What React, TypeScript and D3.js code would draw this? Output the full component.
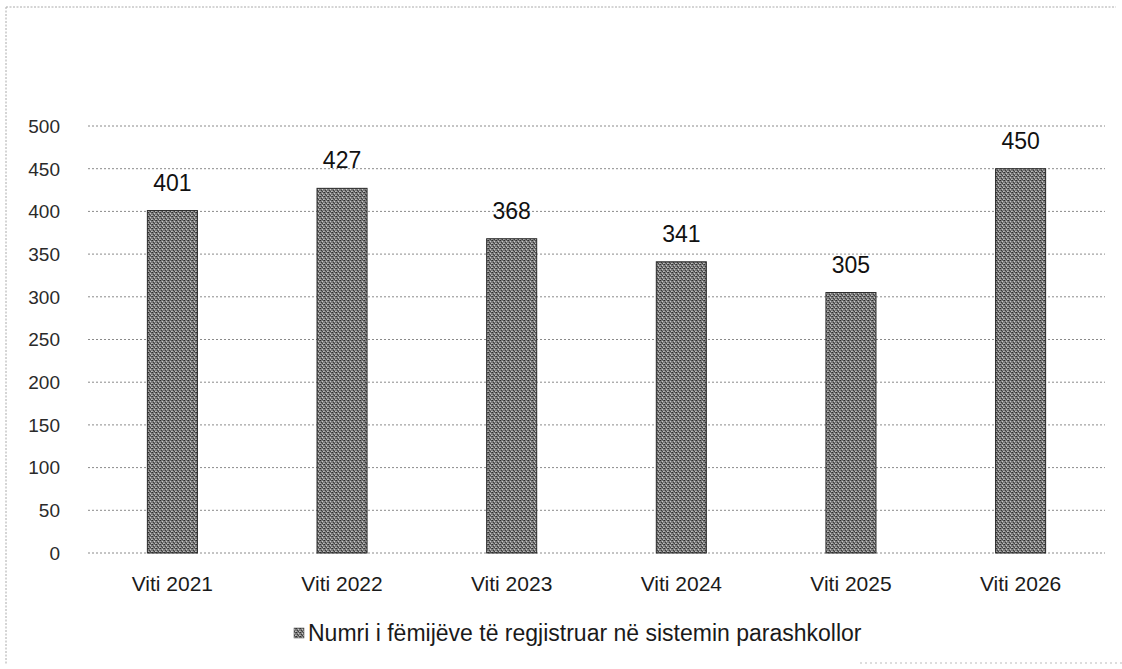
import React from "react";
import * as d3 from "d3";

const categories = ["Viti 2021", "Viti 2022", "Viti 2023", "Viti 2024", "Viti 2025", "Viti 2026"];
const values = [401, 427, 368, 341, 305, 450];
const yTicks = [0, 50, 100, 150, 200, 250, 300, 350, 400, 450, 500];
const seriesName = "Numri i fëmijëve të regjistruar në sistemin parashkollor";

export default function App() {
  const W = 1122, H = 669;
  const left = 88, right = 1105, top = 126, bottom = 553;
  const x = d3.scaleBand<string>().domain(categories).range([left, right]).paddingInner(0.705).paddingOuter(0.35);
  const y = d3.scaleLinear().domain([0, 500]).range([bottom, top]);
  const font = "'Liberation Sans', Arial, sans-serif";
  return (
    <svg width={W} height={H} style={{ position: "absolute", left: 0, top: 0, background: "#fff" }}>
      <defs>
        <pattern id="dither" width="4" height="4" patternUnits="userSpaceOnUse">
          <rect width="4" height="4" fill="#7b7b7b" />
          <rect x="0" y="0" width="1" height="1" fill="#2f2f2f" />
          <rect x="2" y="1" width="1" height="1" fill="#c8c8c8" />
          <rect x="1" y="2" width="1" height="1" fill="#3a3a3a" />
          <rect x="3" y="3" width="1" height="1" fill="#bdbdbd" />
          <rect x="3" y="0" width="1" height="1" fill="#4f4f4f" />
          <rect x="0" y="3" width="1" height="1" fill="#a8a8a8" />
          <rect x="2" y="3" width="1" height="1" fill="#444" />
        </pattern>
      </defs>
      <rect x={0} y={0} width={W} height={H} fill="#fff" />
      {/* frame */}
      <line x1={6} y1={7} x2={1116} y2={7} stroke="#aaa" strokeWidth={1} strokeDasharray="2,1.5" />
      <line x1={6} y1={7} x2={6} y2={664} stroke="#aaa" strokeWidth={1} strokeDasharray="2,1.5" />
      <line x1={860} y1={663} x2={1122} y2={663} stroke="#bbb" strokeWidth={1} strokeDasharray="2,3" />
      {/* grid */}
      {yTicks.map((t) => (
        <g key={t}>
          <line x1={left} x2={right} y1={y(t)} y2={y(t)} stroke="#8a8a8a" strokeWidth={1} strokeDasharray="2,2" />
          <text x={60} y={y(t)} dy="0.36em" textAnchor="end" fontFamily={font} fontSize={19} fill="#2a2a2a">{t}</text>
        </g>
      ))}
      {/* bars */}
      {categories.map((c, i) => (
        <g key={c}>
          <rect x={x(c)} y={y(values[i])} width={x.bandwidth()} height={bottom - y(values[i])} fill="url(#dither)" stroke="#2a2a2a" strokeWidth={1} />
          <text x={(x(c) as number) + x.bandwidth() / 2} y={y(values[i]) - 20} textAnchor="middle" fontFamily={font} fontSize={23} fill="#111">{values[i]}</text>
          <text x={(x(c) as number) + x.bandwidth() / 2} y={591} textAnchor="middle" fontFamily={font} fontSize={21} fill="#1a1a1a">{c}</text>
        </g>
      ))}
      {/* legend */}
      <rect x={294} y={628} width={10} height={10} fill="url(#dither)" stroke="#444" strokeWidth={0.5} />
      <text x={308} y={641} fontFamily={font} fontSize={23} fill="#1a1a1a">{seriesName}</text>
    </svg>
  );
}
